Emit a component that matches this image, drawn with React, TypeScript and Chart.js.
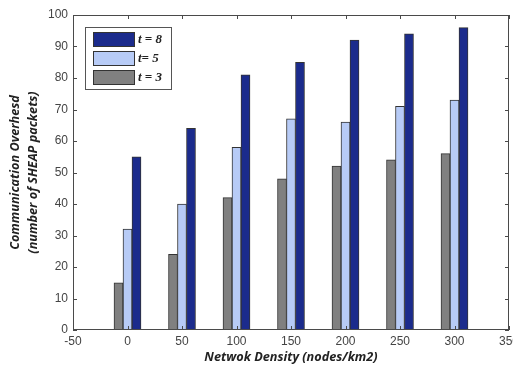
import React, { useEffect, useRef } from 'react';
import { Chart, registerables } from 'chart.js';

Chart.register(...registerables);

const densities = [0, 50, 100, 150, 200, 250, 300];
const overheadT3 = [15, 24, 42, 48, 52, 54, 56];
const overheadT5 = [32, 40, 58, 67, 66, 71, 73];
const overheadT8 = [55, 64, 81, 85, 92, 94, 96];
const seriesLabels = ['t = 3', 't= 5', 't = 8'];
const seriesColors = ['#808080', '#b7cbf6', '#1b2b8c'];
const xTitle = 'Netwok Density (nodes/km2)';
const yTitle = ['Communication Overhesd', '(number of SHEAP packets)'];

const framePlugin = {
  id: 'matlabFrame',
  afterDraw(chart: any) {
    const { ctx, chartArea: a, scales } = chart;
    const x = scales.x;
    const y = scales.y;
    ctx.save();
    ctx.strokeStyle = '#4a4a4a';
    ctx.lineWidth = 1;
    ctx.strokeRect(a.left + 0.5, a.top + 0.5, a.right - a.left - 1, a.bottom - a.top - 1);
    ctx.beginPath();
    x.ticks.forEach((t: any) => {
      const px = Math.round(x.getPixelForValue(t.value)) + 0.5;
      ctx.moveTo(px, a.bottom);
      ctx.lineTo(px, a.bottom - 4);
      ctx.moveTo(px, a.top);
      ctx.lineTo(px, a.top + 4);
    });
    y.ticks.forEach((t: any) => {
      const py = Math.round(y.getPixelForValue(t.value)) + 0.5;
      ctx.moveTo(a.left, py);
      ctx.lineTo(a.left + 4, py);
      ctx.moveTo(a.right, py);
      ctx.lineTo(a.right - 4, py);
    });
    ctx.stroke();

    // legend (inside plot, top-left), reversed order like the reference
    const bx = a.left + 12;
    const by = a.top + 12;
    const bw = 86;
    const bh = 62;
    ctx.fillStyle = '#ffffff';
    ctx.fillRect(bx, by, bw, bh);
    ctx.strokeStyle = '#555';
    ctx.strokeRect(bx + 0.5, by + 0.5, bw, bh);
    const ds = chart.data.datasets;
    const order = [2, 1, 0];
    ctx.font = 'italic bold 13px "Liberation Serif", serif';
    ctx.textBaseline = 'middle';
    order.forEach((di, row) => {
      const cy = by + 12 + row * 19;
      ctx.fillStyle = ds[di].backgroundColor;
      ctx.fillRect(bx + 8, cy - 7, 41, 14);
      ctx.strokeStyle = '#333';
      ctx.strokeRect(bx + 8.5, cy - 6.5, 41, 14);
      ctx.fillStyle = '#222';
      ctx.fillText(ds[di].label, bx + 53, cy + 1);
    });
    ctx.restore();
  },
};

export default function App() {
  const ref = useRef<HTMLCanvasElement>(null);
  useEffect(() => {
    if (!ref.current) return;
    const series = [overheadT3, overheadT5, overheadT8];
    const titleFont = { family: '"Open Sans", "Liberation Sans", sans-serif', weight: 'bold', style: 'italic' };
    const chart = new Chart(ref.current, {
      type: 'bar',
      data: {
        datasets: series.map((vals, i) => ({
          label: seriesLabels[i],
          data: densities.map((d, j) => ({ x: d, y: vals[j] })),
          backgroundColor: seriesColors[i],
          borderColor: '#333',
          borderWidth: 1,
          barThickness: 9,
        })),
      },
      options: {
        animation: false,
        responsive: false,
        maintainAspectRatio: false,
        layout: { padding: { top: 15, right: 4, left: 0, bottom: 0 } },
        plugins: { legend: { display: false }, tooltip: { enabled: false } },
        scales: {
          x: {
            type: 'linear',
            min: -50,
            max: 350,
            offset: false,
            grid: { display: false, drawTicks: false },
            border: { display: false },
            ticks: {
              stepSize: 50,
              color: '#444',
              padding: 4,
              maxRotation: 0,
              font: { family: '"Liberation Sans", Arial, sans-serif', size: 12 },
            },
            title: {
              display: true,
              text: xTitle,
              color: '#222',
              padding: { top: 0, bottom: 2 },
              font: { ...titleFont, size: 12.7, lineHeight: 1.2 },
            },
            afterFit: (s: any) => {
              s.height = 37;
              s.paddingLeft = 0;
              s.paddingRight = 0;
            },
          },
          y: {
            min: 0,
            max: 100,
            grid: { display: false, drawTicks: false },
            border: { display: false },
            ticks: {
              stepSize: 10,
              color: '#444',
              padding: 5,
              font: { family: '"Liberation Sans", Arial, sans-serif', size: 12 },
            },
            title: {
              display: true,
              text: yTitle,
              color: '#222',
              padding: { top: 6, bottom: 0 },
              font: { ...titleFont, size: 12.7, lineHeight: 1.45 },
            },
            afterFit: (s: any) => {
              s.width = 73;
              s.paddingTop = 0;
              s.paddingBottom = 0;
            },
          },
        },
      },
      plugins: [framePlugin],
    });
    return () => chart.destroy();
  }, []);
  return (
    <div style={{ position: 'fixed', left: 0, top: 0, width: 513, height: 367, background: '#fff' }}>
      <canvas ref={ref} width={513} height={367} style={{ width: 513, height: 367, display: 'block' }} />
    </div>
  );
}
